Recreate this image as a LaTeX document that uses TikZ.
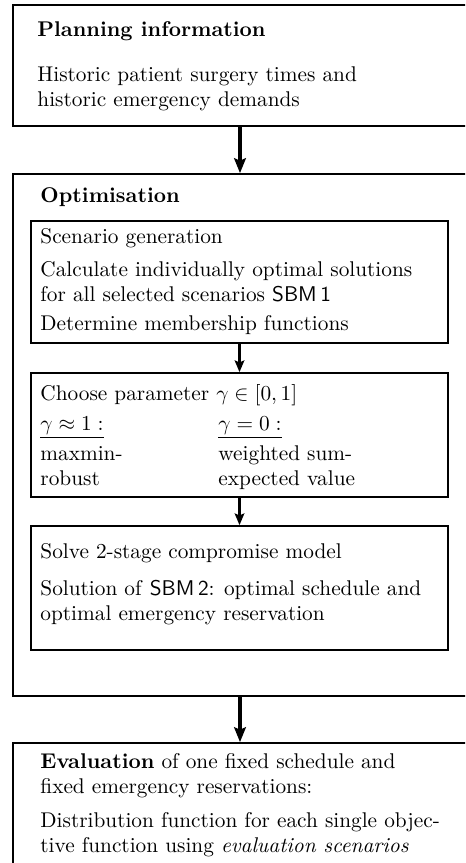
\documentclass[tikz,border=0pt]{standalone}
\usetikzlibrary{arrows.meta,fit}
\begin{document}
\begin{tikzpicture}[x=0.4695pt,y=-0.4695pt,
    box/.style={draw,line width=0.8pt,inner sep=0pt},
    txt/.style={anchor=base west,inner sep=0pt,align=left},
    bigarrow/.style={-{Stealth[length=7pt,width=5.5pt,inset=1.2pt]},line width=1.7pt},
    smallarrow/.style={-{Stealth[length=5.5pt,width=4.5pt,inset=1pt]},line width=1.2pt}]
  \useasboundingbox (0,0) rectangle (465,863);
  \clip (0,0) rectangle (465,863);
  \node[box,fit={(13,5) (467,126)}] (plan) {};
  \node[box,fit={(13,174) (467,696)}] (opt) {};
  \node[box,fit={(31,221) (448,343)}] (gen) {};
  \node[box,fit={(31,373) (448,497)}] (gam) {};
  \node[box,fit={(31,526) (448,650)}] (solve) {};
  \node[box,fit={(13,743) (467,900)}] (eval) {};
  \node[txt] (plan1) at (37,37) {\textbf{Planning information}};
  \node[txt] (plan2) at (37,106.6) {Historic patient surgery times and\\historic emergency demands};
  \node[txt] (opt1) at (40,203) {\textbf{Optimisation}};
  \node[txt] (gen1) at (40,244) {Scenario generation};
  \node[txt] (gen2) at (40,301.6) {Calculate individually optimal solutions\\for all selected scenarios \textsf{SBM\,1}};
  \node[txt] (gen3) at (40,331) {Determine membership functions};
  \node[txt] (gam1) at (40,400) {Choose parameter $\gamma\in[0,1]$};
  \node[txt] (gam2) at (40,430) {$\underline{\gamma\approx 1:}$};
  \node[txt] (gam3) at (218,430) {$\underline{\gamma=0:}$};
  \node[txt] (gam4) at (40,485.6) {maxmin-\\robust};
  \node[txt] (gam5) at (218,485.6) {weighted sum-\\expected value};
  \node[txt] (solve1) at (40,558) {Solve 2-stage compromise model};
  \node[txt] (solve2) at (40,620.6) {Solution of \textsf{SBM\,2}: optimal schedule and\\optimal emergency reservation};
  \node[txt] (eval1) at (40,793.6) {\textbf{Evaluation} of one fixed schedule and\\fixed emergency reservations:};
  \node[txt] (eval2) at (40,852.6) {Distribution function for each single objec-\\tive function using \emph{evaluation scenarios}};
  \begin{scope}[bigarrow]
    \draw (plan) to (opt);
    \draw (opt) to (eval);
  \end{scope}
  \begin{scope}[smallarrow]
    \draw (gen) to (gam);
    \draw (gam) to (solve);
  \end{scope}
\end{tikzpicture}
\end{document}
